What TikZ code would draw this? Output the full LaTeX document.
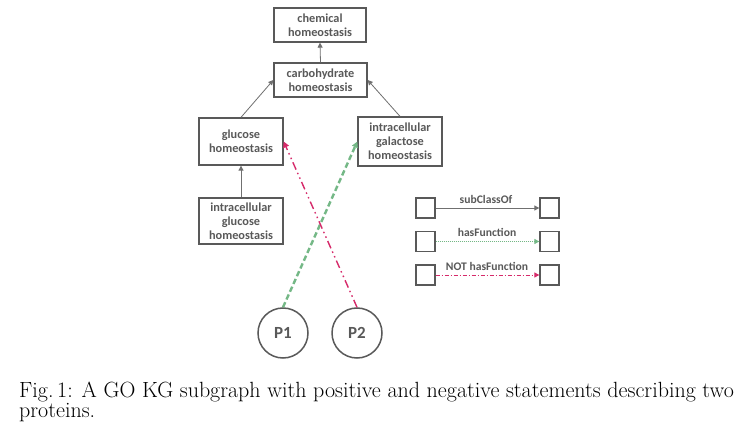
\documentclass[tikz,border=0pt]{standalone}
\usepackage{fontspec}
\newfontfamily\carl{Carlito}
\usetikzlibrary{arrows.meta}
\definecolor{boxgray}{HTML}{595959}
\definecolor{linegray}{HTML}{707070}
\definecolor{posgreen}{HTML}{74B886}
\definecolor{negred}{HTML}{D62A6A}
\tikzset{
  concept/.style={draw=boxgray, line width=1.3pt, inner sep=0pt, align=center,
    text=boxgray, font=\carl\bfseries\fontsize{12.3}{14}\selectfont},
  protein/.style={circle, draw=boxgray, line width=1.5pt, minimum size=50pt, inner sep=0pt,
    text=boxgray, font=\carl\bfseries\fontsize{17}{20}\selectfont},
  legbox/.style={draw=boxgray, line width=1.3pt, minimum width=19pt, minimum height=20pt, inner sep=0pt},
  subedge/.style={draw=linegray, line width=0.8pt, -{Triangle[length=5pt,width=5pt]}},
  posedge/.style={draw=posgreen, line width=2.4pt, dash pattern=on 5.5pt off 3pt,
    -{Triangle[length=6pt,width=6pt]}},
  negedge/.style={draw=negred, line width=1.4pt,
    dash pattern=on 8pt off 3.5pt on 1.5pt off 3.5pt on 1.5pt off 3.5pt,
    -{Triangle[length=6pt,width=6pt]}},
  posleg/.style={draw=posgreen, line width=0.9pt, dash pattern=on 1.2pt off 0.8pt,
    -{Triangle[length=5pt,width=5pt]}},
  negleg/.style={draw=negred, line width=0.9pt, dash pattern=on 4pt off 2pt on 1pt off 2pt,
    -{Triangle[length=5pt,width=5pt]}},
  leglabel/.style={text=boxgray, font=\carl\bfseries\fontsize{11.6}{13}\selectfont, inner sep=0pt, anchor=base}
}
\begin{document}
\begin{tikzpicture}[x=1pt, y=-1pt]
\useasboundingbox (0,0) rectangle (747,430);
\fill[white] (0,0) rectangle (747,430);
% concepts
\node[concept, minimum width=92pt, minimum height=34pt] (chem) at (320,25) {chemical\\homeostasis};
\node[concept, minimum width=93pt, minimum height=34pt] (carb) at (320.5,80) {carbohydrate\\homeostasis};
\node[concept, minimum width=84pt, minimum height=47pt] (gluc) at (241,141.5) {glucose\\homeostasis};
\node[concept, minimum width=84pt, minimum height=49pt] (gala) at (400,141.5) {intracellular\\galactose\\homeostasis};
\node[concept, minimum width=84pt, minimum height=46pt] (igluc) at (241,221) {intracellular\\glucose\\homeostasis};
% proteins
\node[protein] (p1) at (283,333) {P1};
\node[protein] (p2) at (357,333) {P2};
% subclass edges
\draw[subedge] (carb.north) -- (chem.south);
\draw[subedge] (gluc.north) -- (carb.west);
\draw[subedge] (gala.north) -- (carb.east);
\draw[subedge] (igluc.north) -- (gluc.south);
% protein edges
\draw[posedge] (p1.north) -- (gala.west);
\draw[negedge] (p2.north) -- (gluc.east);
% legend
\node[legbox] (l1a) at (425.5,208) {};
\node[legbox] (l1b) at (549.5,208) {};
\node[legbox] (l2a) at (425.5,241.5) {};
\node[legbox] (l2b) at (549.5,241.5) {};
\node[legbox] (l3a) at (425.5,275) {};
\node[legbox] (l3b) at (549.5,275) {};
\draw[subedge] (l1a.east) -- (l1b.west);
\draw[posleg] (l2a.east) -- (l2b.west);
\draw[negleg] (l3a.east) -- (l3b.west);
\node[leglabel] (t1) at (486,204) {subClassOf};
\node[leglabel] (t2) at (487,237) {hasFunction};
\node[leglabel] (t3) at (487,271) {NOT hasFunction};
% caption
\node[anchor=base west, align=left, inner sep=0pt, font=\fontsize{22}{20}\selectfont] (cap) at (19,417)
  {Fig.\,1: A GO KG subgraph with positive and negative statements describing two\\proteins.};
\end{tikzpicture}
\end{document}
